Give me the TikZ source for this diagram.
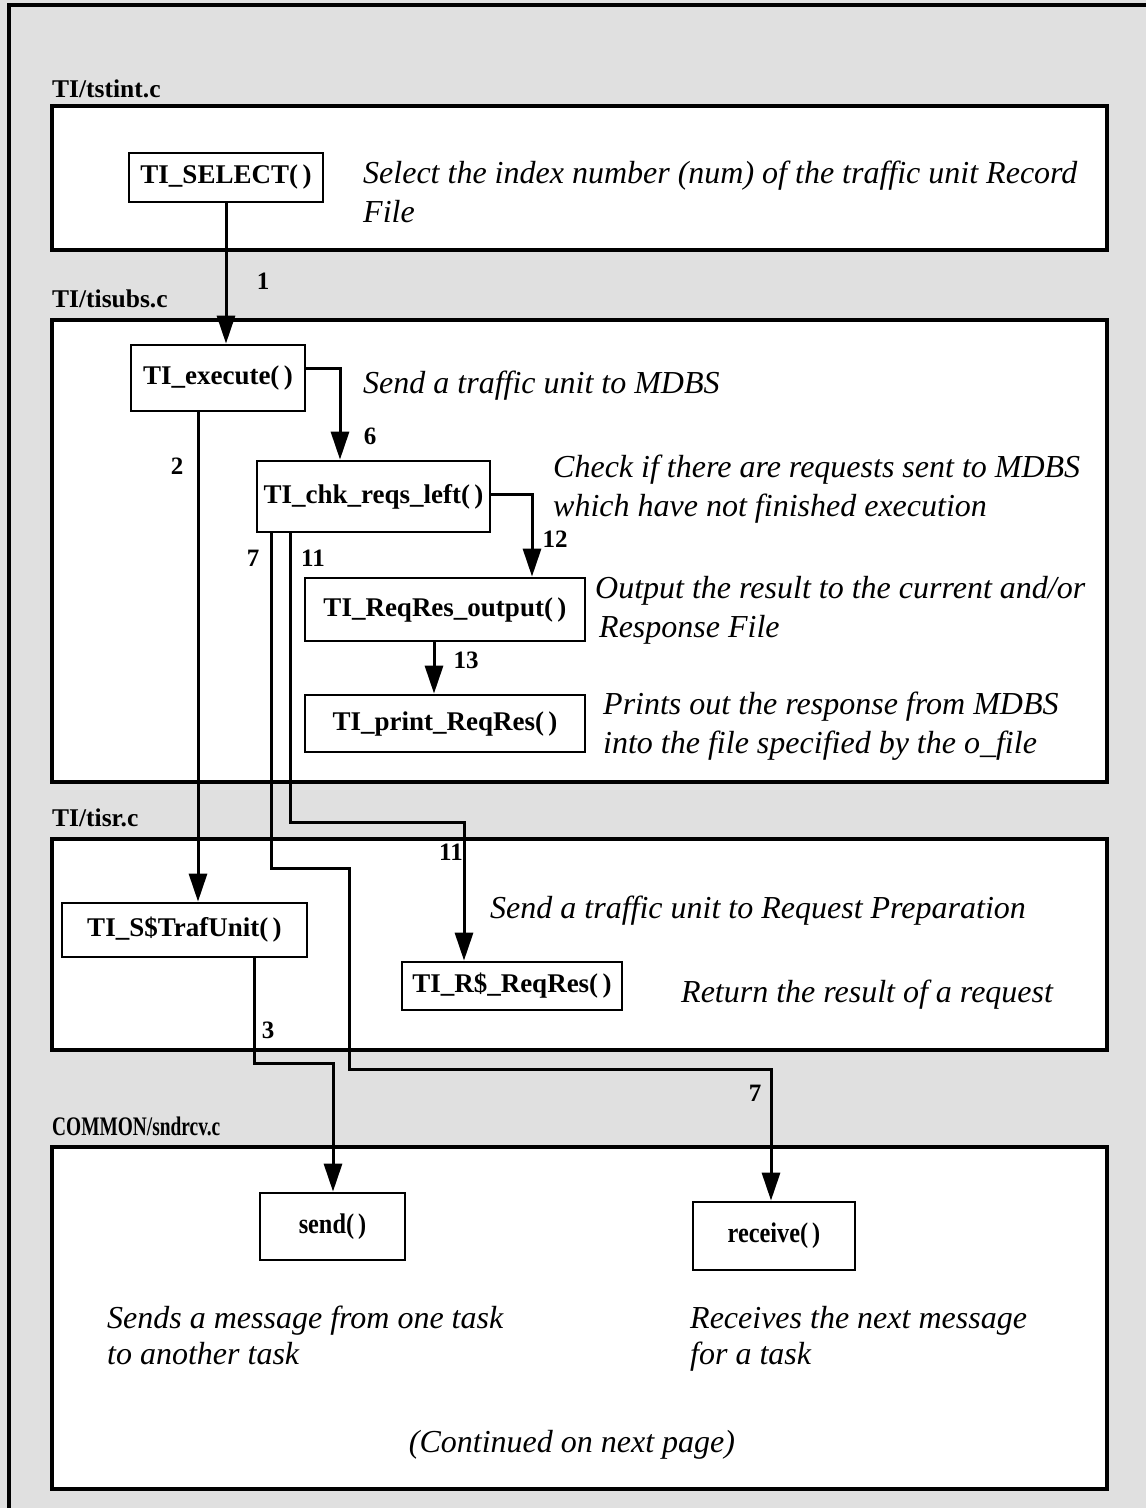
\documentclass[tikz,border=0pt]{standalone}
\usepackage{fontspec}
\setmainfont{Liberation Serif}
\usetikzlibrary{arrows.meta}
\begin{document}
\begin{tikzpicture}[x=1pt,y=-1pt,
  section/.style={draw,line width=3.8pt,fill=white,anchor=north west,inner sep=0pt},
  fnbox/.style={draw,line width=2.8pt,fill=white,inner sep=0pt,
    font=\bfseries\fontsize{27}{29}\selectfont},
  seclabel/.style={anchor=base west,inner sep=0pt,font=\bfseries\fontsize{25.5}{27}\selectfont},
  desc/.style={anchor=base west,inner sep=0pt,align=left,
    font=\itshape\fontsize{32}{39}\selectfont},
  num/.style={inner sep=0pt,font=\bfseries\fontsize{25}{27}\selectfont},
  conn/.style={line width=3pt},
  arr/.style={conn,-{Triangle[length=28pt,width=18pt]}}]
\useasboundingbox (0,0) rectangle (1146,1508);
% stippled page and its frame
\fill[black!12] (0,0) rectangle (1146,1508);
\draw[line width=3.8pt] (9,1508) -- (9,5) -- (1146,5);

% source file sections
\node[seclabel] (l1) at (52,97) {TI/tstint.c};
\node[section,minimum width=1055pt,minimum height=144pt] (s1) at (50,104) {};
\node[seclabel] (l2) at (52,307) {TI/tisubs.c};
\node[section,minimum width=1055pt,minimum height=462pt] (s2) at (50,318) {};
\node[seclabel] (l3) at (52,826) {TI/tisr.c};
\node[section,minimum width=1055pt,minimum height=211pt] (s3) at (50,837) {};
\node[seclabel] (l4) at (52,1135) {\scalebox{0.76}[1.05]{COMMON/sndrcv.c}};
\node[section,minimum width=1055pt,minimum height=342pt] (s4) at (50,1145) {};

% functions
\node[fnbox,minimum width=194pt,minimum height=49pt] (sel) at (226,177.5) {TI\_SELECT(\,)};
\node[fnbox,minimum width=174pt,minimum height=66pt] (exec) at (218,378) {TI\_execute(\,)};
\node[fnbox,minimum width=233pt,minimum height=71pt] (chk) at (373.5,496.5) {TI\_chk\_reqs\_left(\,)};
\node[fnbox,minimum width=280pt,minimum height=63pt] (out) at (445,609.5) {TI\_ReqRes\_output(\,)};
\node[fnbox,minimum width=280pt,minimum height=57pt] (prt) at (445,723.5) {TI\_print\_ReqRes(\,)};
\node[fnbox,minimum width=245pt,minimum height=54pt] (traf) at (184.5,930) {TI\_S\$TrafUnit(\,)};
\node[fnbox,minimum width=220pt,minimum height=48pt] (rres) at (512,986) {TI\_R\$\_ReqRes(\,)};
\node[fnbox,minimum width=145pt,minimum height=67pt] (send) at (332.5,1226.5) {\scalebox{0.9}[1.05]{send(\,)}};
\node[fnbox,minimum width=162pt,minimum height=68pt] (recv) at (774,1236) {\scalebox{0.9}[1.05]{receive(\,)}};

% descriptions (base anchor sits on the last line)
\node[desc] (d1) at (363,222) {Select the index number (num) of the traffic unit Record\\File};
\node[desc] (d2) at (363,393) {Send a traffic unit to MDBS};
\node[desc] (d3) at (553,516) {Check if there are requests sent to MDBS\\which have not finished execution};
\node[desc] (d4) at (595,637) {Output the result to the current and/or\\\hspace*{4pt}Response File};
\node[desc] (d5) at (603,753) {Prints out the response from MDBS\\into the file specified by the o\_file};
\node[desc] (d6) at (490,918) {Send a traffic unit to Request Preparation};
\node[desc] (d7) at (681,1002) {Return the result of a request};
\node[desc,font=\itshape\fontsize{32}{36}\selectfont] (d8) at (107,1364) {Sends a message from one task\\to another task};
\node[desc,font=\itshape\fontsize{32}{36}\selectfont] (d9) at (690,1364) {Receives the next message\\for a task};
\node[desc,anchor=base] (d10) at (572,1452) {(Continued on next page)};

% bend points of the calls
\coordinate (x2) at (198,0);
\coordinate (j6) at (340,368);
\coordinate (j12) at (532,494);
\coordinate (x13) at (434,0);
\coordinate (k7a) at (271,868);
\coordinate (k7b) at (349,1069);
\coordinate (x7) at (771,0);
\coordinate (k11a) at (290,822);
\coordinate (x11) at (464,0);
\coordinate (k3a) at (254,1063);
\coordinate (x3) at (333,0);

% calls
\draw[arr] (sel.south) -- (sel.south |- exec.north);
\draw[arr] (exec.south -| x2) -- (traf.north -| x2);
\draw[arr] (exec.east |- j6) -| (chk.north -| j6);
\draw[arr] (chk.east |- j12) -| (out.north -| j12);
\draw[arr] (out.south -| x13) -- (prt.north -| x13);
\draw[arr] (chk.south -| k7a) -- (k7a) -| (k7b) -| (recv.north -| x7);
\draw[arr] (chk.south -| k11a) -- (k11a) -| (rres.north -| x11);
\draw[arr] (traf.south -| k3a) -- (k3a) -| (send.north -| x3);

% call order
\node[num] (n1) at (263,281) {1};
\node[num] (n2) at (177,466) {2};
\node[num] (n6) at (370,436) {6};
\node[num] (n12) at (555,539) {12};
\node[num] (n7a) at (253,558) {7};
\node[num] (n11a) at (313,558) {11};
\node[num] (n13) at (466,660) {13};
\node[num] (n11b) at (451,852) {11};
\node[num] (n3) at (268,1030) {3};
\node[num] (n7b) at (755,1093) {7};
\end{tikzpicture}
\end{document}
